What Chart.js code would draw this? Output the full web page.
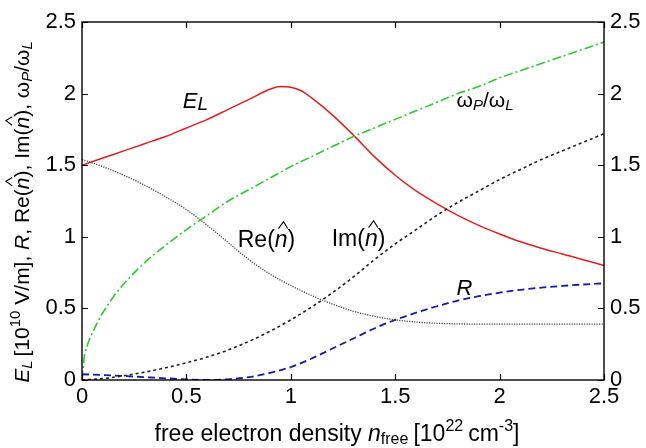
<!DOCTYPE html>
<html>
<head>
<meta charset="utf-8">
<script src="https://cdn.jsdelivr.net/npm/chart.js@4.4.1/dist/chart.umd.min.js"></script>
<style>
html,body{margin:0;padding:0;background:#fff;}
#wrap{width:646px;height:448px;position:relative;}
</style>
</head>
<body>
<div id="wrap"><canvas id="c" width="646" height="448"></canvas></div>
<script>
// ---- data ----
const xGrid = [0,0.1,0.2,0.3,0.4,0.5,0.6,0.7,0.8,0.9,1.0,1.1,1.2,1.3,1.4,1.5,1.6,1.7,1.8,1.9,2.0,2.1,2.2,2.3,2.4,2.5];
const eLaserX = [0,0.1,0.2,0.3,0.4,0.5,0.6,0.7,0.8,0.9,0.95,1.0,1.05,1.1,1.2,1.3,1.4,1.5,1.6,1.7,1.8,1.9,2.0,2.1,2.2,2.3,2.4,2.5];
const eLaser = [1.50,1.55,1.60,1.65,1.70,1.76,1.82,1.89,1.96,2.03,2.05,2.045,2.02,1.97,1.85,1.71,1.56,1.43,1.32,1.23,1.15,1.08,1.02,0.965,0.92,0.88,0.84,0.80];
const reIndex = [1.54,1.49,1.43,1.36,1.28,1.19,1.08,0.96,0.84,0.74,0.66,0.59,0.53,0.48,0.445,0.42,0.405,0.396,0.392,0.39,0.39,0.39,0.39,0.39,0.39,0.39];
const imIndex = [0.0,0.01,0.03,0.055,0.085,0.12,0.16,0.21,0.27,0.34,0.42,0.51,0.61,0.72,0.84,0.95,1.05,1.15,1.24,1.32,1.40,1.47,1.54,1.60,1.66,1.72];
const reflect = [0.04,0.035,0.028,0.02,0.012,0.005,0.0,0.005,0.02,0.05,0.09,0.15,0.22,0.29,0.36,0.42,0.47,0.515,0.555,0.585,0.61,0.63,0.645,0.657,0.667,0.675];
const wpX = [0,0.01,0.025,0.05,0.1,0.15,0.2,0.3,0.4,0.5,0.6,0.7,0.8,0.9,1.0,1.1,1.2,1.3,1.4,1.5,1.6,1.7,1.8,1.9,2.0,2.1,2.2,2.3,2.4,2.5];
const wpRatio = [0,0.15,0.24,0.33,0.47,0.58,0.67,0.82,0.94,1.05,1.15,1.25,1.33,1.41,1.49,1.56,1.63,1.70,1.76,1.82,1.88,1.94,2.00,2.05,2.11,2.16,2.21,2.26,2.31,2.36];
const xTickValues = [0,0.5,1,1.5,2,2.5];
const xTickLabels = ['0','0.5','1','1.5','2','2.5'];
const yTickValues = [0,0.5,1,1.5,2,2.5];
const yTickLabels = ['0','0.5','1','1.5','2','2.5'];

const FONT = "'Liberation Sans', Arial, Helvetica, sans-serif";
const pts = (xs, ys) => xs.map((x, i) => ({x: x, y: ys[i]}));

function drawRich(ctx, x, y, parts, size, align) {
  const fontOf = p => (p.i ? 'italic ' : '') + Math.round(size * (p.s || 1)) + 'px ' + FONT;
  let total = 0;
  parts.forEach(p => { ctx.font = fontOf(p); p.w = ctx.measureText(p.t).width; total += p.w + (p.gap || 0); });
  let cx = align === 'center' ? x - total / 2 : x;
  ctx.textBaseline = 'alphabetic';
  ctx.textAlign = 'left';
  parts.forEach(p => {
    ctx.font = fontOf(p);
    const yy = y + (p.dy || 0) * size;
    ctx.fillText(p.t, cx, yy);
    if (p.hat) {
      const mid = cx + p.w / 2 + size * 0.08;
      const base = yy - size * 0.8, peak = yy - size * 1.1, hw = size * 0.2;
      ctx.beginPath();
      ctx.moveTo(mid - hw, base);
      ctx.lineTo(mid + size * 0.02, peak);
      ctx.lineTo(mid + hw, base);
      ctx.lineWidth = 1.1;
      ctx.stroke();
    }
    cx += p.w + (p.gap || 0);
  });
}

const overlay = {
  id: 'overlay',
  afterDraw(chart) {
    const {ctx, chartArea: a, scales: {x, y}} = chart;
    ctx.save();
    ctx.strokeStyle = '#000';
    ctx.fillStyle = '#000';
    ctx.lineWidth = 1.4;
    ctx.strokeRect(a.left, a.top, a.right - a.left, a.bottom - a.top);
    ctx.lineWidth = 1.2;
    ctx.beginPath();
    xTickValues.forEach(v => {
      const px = Math.round(x.getPixelForValue(v)) + 0.5;
      ctx.moveTo(px, a.bottom); ctx.lineTo(px, a.bottom - 6);
      ctx.moveTo(px, a.top); ctx.lineTo(px, a.top + 6);
    });
    yTickValues.forEach(v => {
      const py = Math.round(y.getPixelForValue(v)) + 0.5;
      ctx.moveTo(a.left, py); ctx.lineTo(a.left + 6, py);
      ctx.moveTo(a.right, py); ctx.lineTo(a.right - 6, py);
    });
    ctx.stroke();

    // curve labels
    const P = (vx, vy) => [x.getPixelForValue(vx), y.getPixelForValue(vy)];
    let p;
    p = P(0.483, 1.90);
    drawRich(ctx, p[0], p[1], [{t: 'E', i: true}, {t: 'L', i: true, s: 0.85, dy: 0.1}], 22, 'left');
    p = P(1.794, 1.906);
    drawRich(ctx, p[0], p[1], [{t: 'ω'}, {t: 'P', i: true, s: 0.7, dy: 0.12}, {t: '/ω'}, {t: 'L', i: true, s: 0.7, dy: 0.12}], 21, 'left');
    p = P(0.746, 0.929);
    drawRich(ctx, p[0], p[1], [{t: 'Re('}, {t: 'n', i: true, hat: true}, {t: ')'}], 23, 'left');
    p = P(1.196, 0.936);
    drawRich(ctx, p[0], p[1], [{t: 'Im('}, {t: 'n', i: true, hat: true}, {t: ')'}], 23, 'left');
    p = P(1.794, 0.594);
    drawRich(ctx, p[0], p[1], [{t: 'R', i: true}], 22, 'left');

    // x axis title
    drawRich(ctx, 337, 441, [
      {t: 'free electron density '}, {t: 'n', i: true}, {t: 'free', s: 0.7, dy: 0.15, gap: 5},
      {t: '[10'}, {t: '22', s: 0.7, dy: -0.45, gap: 5}, {t: 'cm'}, {t: '-3', s: 0.7, dy: -0.45}, {t: ']'}
    ], 23, 'center');

    // y axis title (rotated)
    ctx.save();
    ctx.translate(29, 212);
    ctx.rotate(-Math.PI / 2);
    drawRich(ctx, 0, 0, [
      {t: 'E', i: true}, {t: 'L', i: true, s: 0.7, dy: 0.15, gap: 4},
      {t: '[10'}, {t: '10', s: 0.7, dy: -0.45}, {t: ' V/m], '},
      {t: 'R', i: true}, {t: ', Re('}, {t: 'n', i: true, hat: true}, {t: '), Im('}, {t: 'n', i: true, hat: true}, {t: '), '},
      {t: 'ω'}, {t: 'P', i: true, s: 0.7, dy: 0.15}, {t: '/ω'}, {t: 'L', i: true, s: 0.7, dy: 0.15}
    ], 21, 'center');
    ctx.restore();
    ctx.restore();
  }
};

const common = {fill: false, pointRadius: 0, cubicInterpolationMode: 'monotone'};

new Chart(document.getElementById('c'), {
  type: 'line',
  data: {
    datasets: [
      Object.assign({label: 'wp', data: pts(wpX, wpRatio), borderColor: 'rgb(40,205,40)', borderDash: [9, 3, 2, 3], borderWidth: 1.6}, common),
      Object.assign({label: 'Re', data: pts(xGrid, reIndex), borderColor: '#444', borderDash: [1.2, 1.3], borderWidth: 1.3}, common),
      Object.assign({label: 'Im', data: pts(xGrid, imIndex), borderColor: '#222', borderDash: [3, 3], borderWidth: 1.6}, common),
      Object.assign({label: 'R', data: pts(xGrid, reflect), borderColor: 'rgb(25,25,170)', borderDash: [7, 4], borderWidth: 1.8}, common),
      Object.assign({label: 'EL', data: pts(eLaserX, eLaser), borderColor: 'rgb(228,30,30)', borderWidth: 1.5}, common)
    ]
  },
  options: {
    responsive: false,
    animation: false,
    layout: {padding: {top: 22, left: 0, right: 0, bottom: 0}},
    plugins: {legend: {display: false}, tooltip: {enabled: false}},
    scales: {
      x: {
        type: 'linear', min: 0, max: 2.5,
        afterFit: s => { s.height = 68; },
        grid: {display: false, drawTicks: false},
        border: {display: false},
        ticks: {stepSize: 0.5, padding: 4, color: '#000', font: {family: FONT, size: 22},
                callback: (v) => { const i = xTickValues.indexOf(v); return i >= 0 ? xTickLabels[i] : ''; }}
      },
      y: {
        type: 'linear', position: 'left', min: 0, max: 2.5,
        afterFit: s => { s.width = 82; },
        grid: {display: false, drawTicks: false},
        border: {display: false},
        ticks: {stepSize: 0.5, padding: 6, color: '#000', font: {family: FONT, size: 22},
                callback: (v) => { const i = yTickValues.indexOf(v); return i >= 0 ? yTickLabels[i] : ''; }}
      },
      y2: {
        type: 'linear', position: 'right', min: 0, max: 2.5,
        afterFit: s => { s.width = 42; },
        grid: {display: false, drawTicks: false},
        border: {display: false},
        ticks: {stepSize: 0.5, padding: 6, color: '#000', font: {family: FONT, size: 22},
                callback: (v) => { const i = yTickValues.indexOf(v); return i >= 0 ? yTickLabels[i] : ''; }}
      }
    }
  },
  plugins: [overlay]
});
</script>
</body>
</html>
